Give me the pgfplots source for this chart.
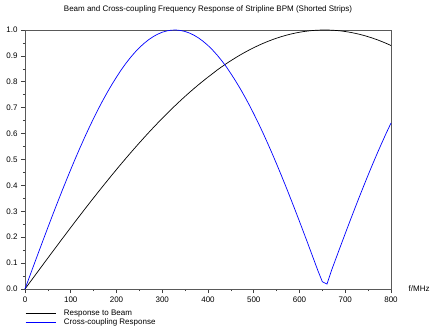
\documentclass[border=0pt]{standalone}
\usepackage{pgfplots}
\pgfplotsset{compat=1.18}
\usepackage{fontspec}
\setmainfont{Liberation Sans}
\begin{document}
\begin{tikzpicture}
\useasboundingbox (-25pt,-43pt) rectangle (405pt,289pt);
\begin{axis}[
  at={(0,0)}, anchor=south west,
  scale only axis, width=366pt, height=259pt,
  xmin=0, xmax=800, ymin=0, ymax=1,
  xtick={0,100,...,800}, ytick={0,0.1,...,1.0},
  minor tick num=1,
  tick align=outside,
  major tick length=4pt, minor tick length=2pt,
  xtick pos=bottom, ytick pos=left,
  tick style={black!75, line width=0.6pt},
  axis line style={black!65, line width=0.9pt},
  /pgf/number format/assume math mode=true,
  yticklabel style={/pgf/number format/.cd, fixed, precision=1, fixed zerofill},
  ticklabel style={font=\fontsize{8}{9}\selectfont},
  scaled ticks=false,
  clip=false,
  legend style={at={(rel axis cs:0,0)}, anchor=north west, yshift=-19pt,
    draw=none, fill=none, inner sep=0pt, row sep=-3pt,
    font=\fontsize{8}{9}\selectfont,
    /tikz/every odd column/.append style={column sep=6pt}},
  legend image code/.code={\draw[#1] (0pt,0pt) -- (30pt,0pt);},
  legend cell align=left,
]
\addplot[black, line width=0.7pt] coordinates {
(0,0) (10,0.02398) (20,0.04794) (30,0.07188) (40,0.09578) (50,0.11962) (60,0.14339) (70,0.16709) (80,0.19069) (90,0.21418)
(100,0.23755) (110,0.26077) (120,0.28384) (130,0.30677) (140,0.32946) (150,0.35202) (160,0.37433) (170,0.39649) (180,0.41836) (190,0.44001)
(200,0.46142) (210,0.48260) (220,0.50346) (230,0.52406) (240,0.54432) (250,0.56431) (260,0.58395) (270,0.60323) (280,0.62218) (290,0.64074)
(300,0.65894) (310,0.67672) (320,0.69413) (330,0.71116) (340,0.72775) (350,0.74388) (360,0.75963) (370,0.77493) (380,0.78979) (390,0.80418)
(400,0.81812) (410,0.83160) (420,0.84530) (430,0.85790) (440,0.86999) (450,0.88156) (460,0.89263) (470,0.90320) (480,0.91322) (490,0.92272)
(500,0.93170) (510,0.94014) (520,0.94805) (530,0.95540) (540,0.96221) (550,0.96847) (560,0.97416) (570,0.97930) (580,0.98387) (590,0.98788)
(600,0.99131) (610,0.99418) (620,0.99648) (630,0.99820) (640,0.99935) (650,0.99993) (660,0.99993) (670,0.99935) (680,0.99820) (690,0.99648)
(700,0.99418) (710,0.99131) (720,0.98788) (730,0.98387) (740,0.97930) (750,0.97416) (760,0.96847) (770,0.96221) (780,0.95540) (790,0.94805)
(800,0.94014)
};
\addlegendentry{Response to Beam}
\addplot[blue, line width=0.7pt] coordinates {
(0,0) (10,0.04794) (20,0.09578) (30,0.14339) (40,0.19069) (50,0.23755) (60,0.28384) (70,0.32946) (80,0.37433) (90,0.41836)
(100,0.46142) (110,0.50346) (120,0.54432) (130,0.58395) (140,0.62218) (150,0.65894) (160,0.69413) (170,0.72775) (180,0.75963) (190,0.78979)
(200,0.81812) (210,0.84530) (220,0.86999) (230,0.89263) (240,0.91322) (250,0.93170) (260,0.94805) (270,0.96221) (280,0.97416) (290,0.98387)
(300,0.99131) (310,0.99648) (320,0.99935) (330,0.99993) (340,0.99820) (350,0.99418) (360,0.98788) (370,0.97930) (380,0.96847) (390,0.95540)
(400,0.94014) (410,0.92272) (420,0.90320) (430,0.88156) (440,0.85790) (450,0.83160) (460,0.80418) (470,0.77493) (480,0.74388) (490,0.71116)
(500,0.67672) (510,0.64074) (520,0.60323) (530,0.56431) (540,0.52406) (550,0.48260) (560,0.44001) (570,0.39649) (580,0.35202) (590,0.30677)
(600,0.26077) (610,0.21418) (620,0.16709) (630,0.11962) (640,0.07188) (650,0.02800) (660,0.01900) (670,0.07188) (680,0.11962) (690,0.16709)
(700,0.21418) (710,0.26077) (720,0.30677) (730,0.35202) (740,0.39649) (750,0.44001) (760,0.48260) (770,0.52406) (780,0.56431) (790,0.60323)
(800,0.64074)
};
\addlegendentry{Cross-coupling Response}
\node[anchor=base, font=\fontsize{8}{9}\selectfont] at ([yshift=18.5pt]rel axis cs:0.5,1) {Beam and Cross-coupling Frequency Response of Stripline BPM (Shorted Strips)};
\node[anchor=west, font=\fontsize{8}{9}\selectfont, inner sep=0pt] at ([xshift=17.5pt]rel axis cs:1,0) {f/MHz};
\end{axis}
\end{tikzpicture}
\end{document}
